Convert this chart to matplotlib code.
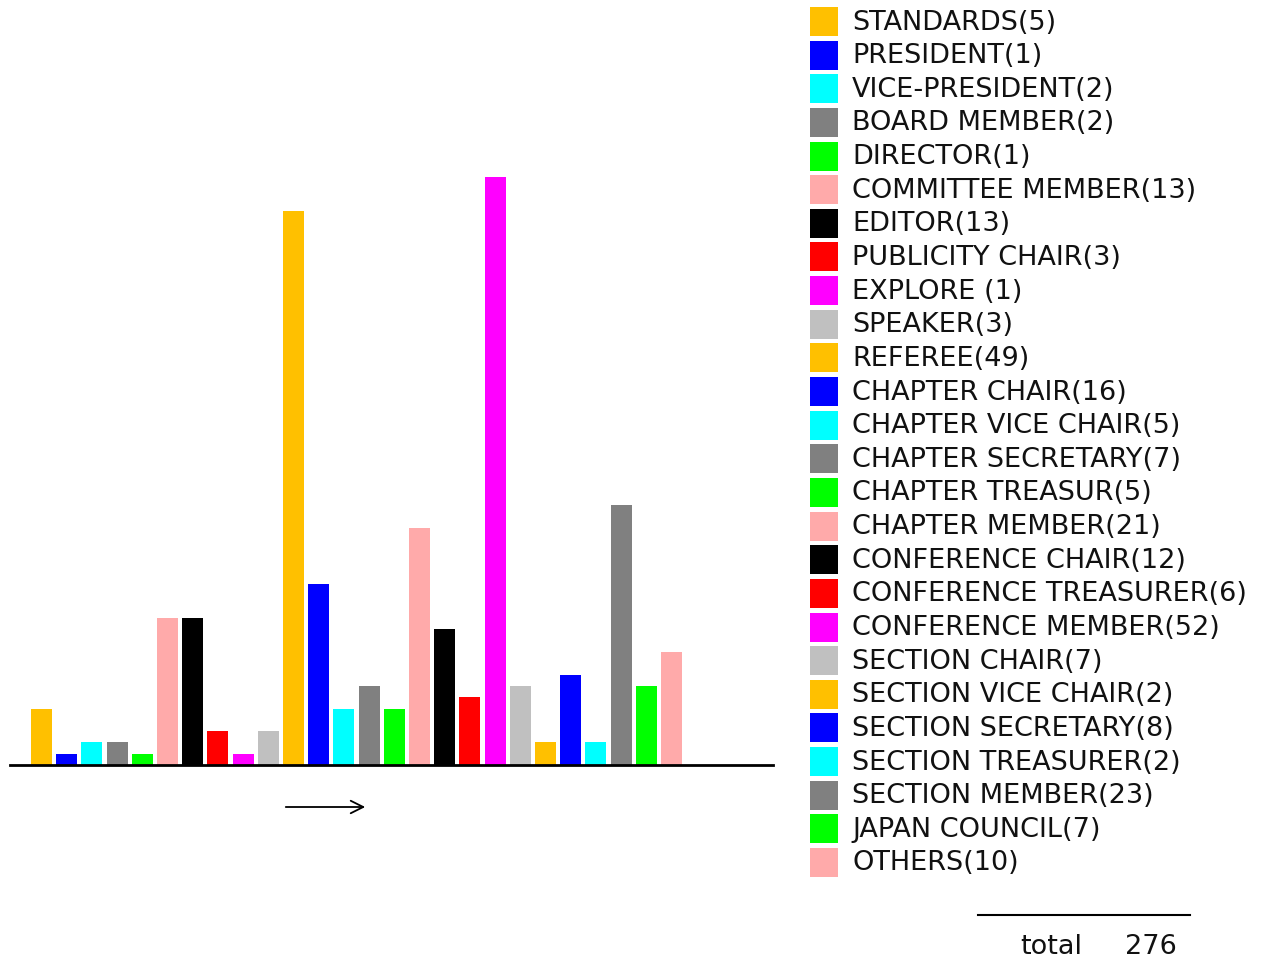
import matplotlib
matplotlib.use("Agg")
import matplotlib.pyplot as plt
from matplotlib.patches import Rectangle

labels = ["STANDARDS(5)", "PRESIDENT(1)", "VICE-PRESIDENT(2)", "BOARD MEMBER(2)",
          "DIRECTOR(1)", "COMMITTEE MEMBER(13)", "EDITOR(13)", "PUBLICITY CHAIR(3)",
          "EXPLORE (1)", "SPEAKER(3)", "REFEREE(49)", "CHAPTER CHAIR(16)",
          "CHAPTER VICE CHAIR(5)", "CHAPTER SECRETARY(7)", "CHAPTER TREASUR(5)",
          "CHAPTER MEMBER(21)", "CONFERENCE CHAIR(12)", "CONFERENCE TREASURER(6)",
          "CONFERENCE MEMBER(52)", "SECTION CHAIR(7)", "SECTION VICE CHAIR(2)",
          "SECTION SECRETARY(8)", "SECTION TREASURER(2)", "SECTION MEMBER(23)",
          "JAPAN COUNCIL(7)", "OTHERS(10)"]
counts = [5, 1, 2, 2, 1, 13, 13, 3, 1, 3, 49, 16, 5, 7, 5, 21, 12, 6, 52, 7,
          2, 8, 2, 23, 7, 10]
palette = ["#FFC000", "#0000FF", "#00FFFF", "#808080", "#00FF00", "#FFAAAA",
           "#000000", "#FF0000", "#FF00FF", "#C0C0C0"]
colors = [palette[i % len(palette)] for i in range(len(counts))]
total = sum(counts)

W, H = 1276, 961
fig = plt.figure(figsize=(W / 100, H / 100), dpi=100)

# bar area: baseline at y=765px, line from x=10 to 773
ax = fig.add_axes([10 / W, (H - 765) / H, 763 / W, 765 / H])
x = list(range(len(counts)))
ax.bar(x, counts, width=0.83, color=colors)
ax.set_xlim(-1.25, 29.03)
ax.set_ylim(0, 765 / 11.3)
for s in ["top", "right", "left"]:
    ax.spines[s].set_visible(False)
ax.spines["bottom"].set_linewidth(2)
ax.set_xticks([])
ax.set_yticks([])

# overlay in pixel coords for arrow, legend and total
ax2 = fig.add_axes([0, 0, 1, 1], facecolor="none")
ax2.set_xlim(0, W)
ax2.set_ylim(H, 0)
ax2.axis("off")
ax2.annotate("", xy=(368, 807), xytext=(283, 807),
             arrowprops=dict(arrowstyle="->,head_length=0.9,head_width=0.45", lw=1.3, color="black"))

fs = 19.5
for i, (lab, c) in enumerate(zip(labels, colors)):
    yc = 21.5 + 33.64 * i
    ax2.add_patch(Rectangle((810, yc - 14.5), 28, 29, facecolor=c, edgecolor="none"))
    ax2.text(852, yc + 1, lab, fontsize=fs, va="center", ha="left", color="#111111")

ax2.plot([978, 1190], [915, 915], color="black", lw=1.5)
ax2.text(1020, 947, "total", fontsize=fs, va="center", ha="left", color="#111111")
ax2.text(1125, 947, str(total), fontsize=fs, va="center", ha="left", color="#111111")

fig.savefig("out.png", dpi=100)
